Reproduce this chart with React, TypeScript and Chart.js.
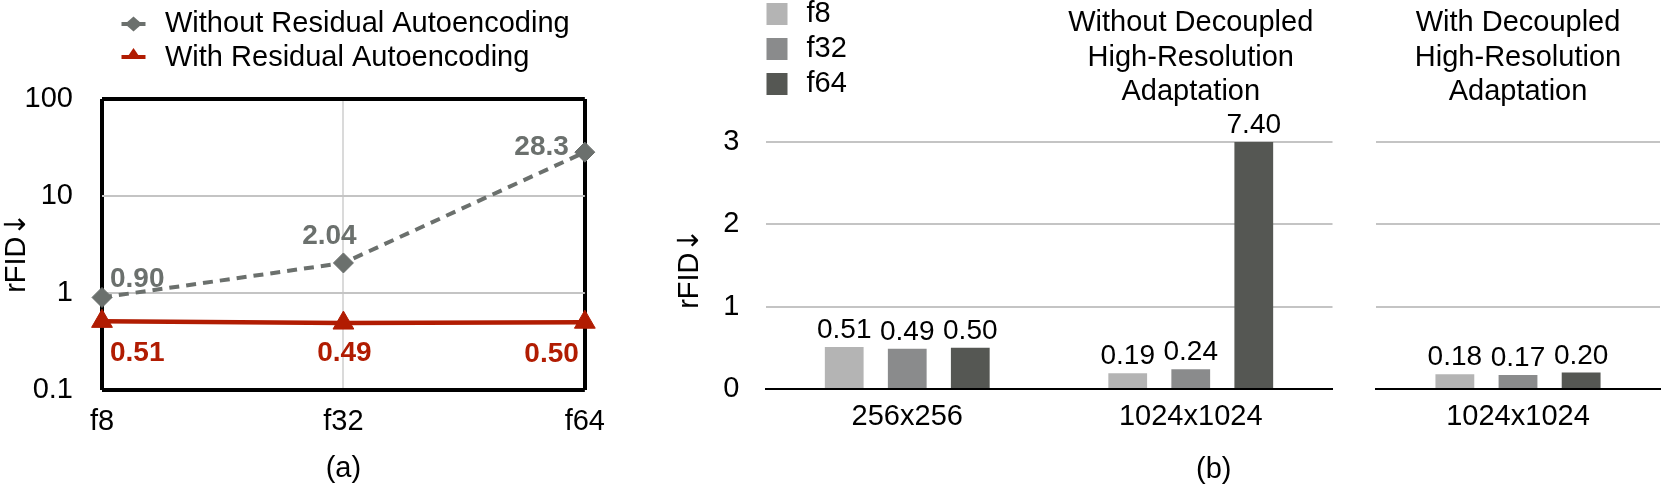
import React, { useEffect, useRef } from 'react';
import { Chart, registerables } from 'chart.js';

Chart.register(...registerables);

const FONT = "'Liberation Sans', Arial, Helvetica, sans-serif";
const ARROW_FONT = "'DejaVu Sans', sans-serif";

// ---------- Panel (a) data ----------
const FACTORS = ['f8', 'f32', 'f64'];
const WITHOUT_RESIDUAL = [0.9, 2.04, 28.3];
const WITH_RESIDUAL = [0.51, 0.49, 0.5];
const LOG_TICKS = [0.1, 1, 10, 100];

// ---------- Panel (b) data ----------
const SERIES_NAMES = ['f8', 'f32', 'f64'];
const RES_WITHOUT_DHR = ['256x256', '1024x1024'];
const RES_WITH_DHR = ['1024x1024'];
const F8_WITHOUT_DHR = [0.51, 0.19];
const F32_WITHOUT_DHR = [0.49, 0.24];
const F64_WITHOUT_DHR = [0.5, 7.4];
const F8_WITH_DHR = [0.18];
const F32_WITH_DHR = [0.17];
const F64_WITH_DHR = [0.2];
const BAR_Y_MAX = 3;
const TITLE_WITHOUT_DHR = ['Without Decoupled', 'High-Resolution', 'Adaptation'];
const TITLE_WITH_DHR = ['With Decoupled', 'High-Resolution', 'Adaptation'];
const Y_TITLE = 'rFID';
const Y_TITLE_ARROW = '↓';

// ---------- styles ----------
const GRAY = '#6b706d';
const RED = '#b11c02';
const BAR_COLORS = ['#b4b4b4', '#8a8b8c', '#555753'];
const GRID = '#c4c4c4';
const FS = 29;

const GRAY_PLACE = [
  { dx: 8, dy: -18, align: 'left' },
  { dx: -14, dy: -27, align: 'center' },
  { dx: -16, dy: -5, align: 'right' },
];
const RED_PLACE = [
  { dx: 8, dy: 32, align: 'left' },
  { dx: 1, dy: 30, align: 'center' },
  { dx: -6, dy: 32, align: 'right' },
];

const fmt = (v: number) => (v >= 10 ? v.toFixed(1) : v.toFixed(2));
const fMain = { family: FONT, size: FS };

// ---------- plugins ----------
const pointLabelPlugin = {
  id: 'pointLabels',
  beforeDatasetsDraw(chart: any) {
    const ctx = chart.ctx;
    ctx.save();
    ctx.font = `bold 28px ${FONT}`;
    ctx.textBaseline = 'middle';
    chart.data.datasets.forEach((ds: any, di: number) => {
      const meta = chart.getDatasetMeta(di);
      const place = ds.place;
      meta.data.forEach((pt: any, i: number) => {
        const p = place[i];
        ctx.fillStyle = ds.borderColor;
        ctx.textAlign = p.align;
        ctx.fillText(fmt(ds.data[i]), pt.x + p.dx, pt.y + p.dy);
      });
    });
    ctx.restore();
  },
};

const legendAPlugin = {
  id: 'legendA',
  afterDraw(chart: any) {
    const ctx = chart.ctx;
    const rows = [24, 58];
    const mx = 133.5;
    chart.data.datasets.forEach((ds: any, i: number) => {
      const y = rows[i];
      const ly = y - (i === 1 ? 1 : 0);
      ctx.save();
      ctx.strokeStyle = ds.borderColor;
      ctx.fillStyle = ds.borderColor;
      ctx.lineWidth = 4;
      ctx.beginPath();
      ctx.moveTo(mx - 12, ly);
      ctx.lineTo(mx + 12, ly);
      ctx.stroke();
      ctx.beginPath();
      if (ds.pointStyle === 'rectRot') {
        ctx.moveTo(mx - 8.5, y);
        ctx.lineTo(mx, y - 7.5);
        ctx.lineTo(mx + 8.5, y);
        ctx.lineTo(mx, y + 7.5);
      } else {
        ctx.moveTo(mx, y - 10);
        ctx.lineTo(mx + 7.5, y + 1);
        ctx.lineTo(mx - 7.5, y + 1);
      }
      ctx.closePath();
      ctx.fill();
      ctx.font = `${FS}px ${FONT}`;
      ctx.fillStyle = '#000';
      ctx.textAlign = 'left';
      ctx.textBaseline = 'middle';
      ctx.fillText(ds.label, 165, y);
      ctx.restore();
    });
  },
};

const makeYTitlePlugin = (dy: number) => ({
  id: 'yTitle',
  afterDraw(chart: any) {
    const ctx = chart.ctx;
    const ys = chart.scales.y;
    const cx = ys.left + (FS * 1.2) / 2;
    const cy = (chart.chartArea.top + chart.chartArea.bottom) / 2 + dy;
    ctx.save();
    ctx.translate(cx, cy);
    ctx.rotate(-Math.PI / 2);
    ctx.fillStyle = '#000';
    ctx.textBaseline = 'middle';
    ctx.textAlign = 'left';
    ctx.font = `${FS}px ${FONT}`;
    const w1 = ctx.measureText(Y_TITLE).width;
    ctx.font = `${FS}px ${ARROW_FONT}`;
    const w2 = ctx.measureText(Y_TITLE_ARROW).width;
    const start = -(w1 + w2) / 2;
    ctx.font = `${FS}px ${FONT}`;
    ctx.fillText(Y_TITLE, start, 0);
    ctx.font = `${FS}px ${ARROW_FONT}`;
    ctx.fillText(Y_TITLE_ARROW, start + w1, 0);
    ctx.restore();
  },
});

const barValuePlugin = {
  id: 'barValues',
  afterDatasetsDraw(chart: any) {
    const ctx = chart.ctx;
    const top = chart.chartArea.top;
    ctx.save();
    ctx.font = `28px ${FONT}`;
    ctx.fillStyle = '#000';
    ctx.textAlign = 'center';
    ctx.textBaseline = 'alphabetic';
    chart.data.datasets.forEach((ds: any, di: number) => {
      chart.getDatasetMeta(di).data.forEach((bar: any, i: number) => {
        const y = Math.max(bar.y, top);
        ctx.fillText(fmt(ds.data[i]), bar.x, y - 9);
      });
    });
    ctx.restore();
  },
};

const makeHeaderPlugin = (lines: string[], catIndex: number) => ({
  id: 'header',
  afterDraw(chart: any) {
    const ctx = chart.ctx;
    const x = chart.scales.x.getPixelForValue(catIndex);
    const ys = [23, 57.5, 92];
    ctx.save();
    ctx.font = `${FS}px ${FONT}`;
    ctx.fillStyle = '#000';
    ctx.textAlign = 'center';
    ctx.textBaseline = 'middle';
    lines.forEach((t, i) => ctx.fillText(t, x, ys[i]));
    ctx.restore();
  },
});

const legendBPlugin = {
  id: 'legendB',
  afterDraw(chart: any) {
    const ctx = chart.ctx;
    const left = chart.chartArea.left + 1;
    const rows = [14, 49, 84];
    ctx.save();
    chart.data.datasets.forEach((ds: any, i: number) => {
      const y = rows[i];
      ctx.fillStyle = ds.backgroundColor;
      ctx.fillRect(left, y - 11, 21, 22);
      ctx.font = `${FS}px ${FONT}`;
      ctx.fillStyle = '#000';
      ctx.textAlign = 'left';
      ctx.textBaseline = 'middle';
      ctx.fillText(ds.label, left + 40, y);
    });
    ctx.restore();
  },
};

const panelLabelBPlugin = {
  id: 'panelLabelB',
  afterDraw(chart: any) {
    const ctx = chart.ctx;
    ctx.save();
    ctx.font = `${FS}px ${FONT}`;
    ctx.fillStyle = '#000';
    ctx.textAlign = 'center';
    ctx.textBaseline = 'middle';
    ctx.fillText('(b)', (chart.chartArea.left + chart.width) / 2, 470);
    ctx.restore();
  },
};

// ---------- configs ----------
function configA(): any {
  const isEdgeY = (c: any) =>
    c.tick && (c.tick.value === LOG_TICKS[0] || c.tick.value === LOG_TICKS[LOG_TICKS.length - 1]);
  const isEdgeX = (c: any) => c.index === 0 || c.index === FACTORS.length - 1;
  return {
    type: 'line',
    data: {
      labels: FACTORS,
      datasets: [
        {
          label: 'Without Residual Autoencoding',
          data: WITHOUT_RESIDUAL,
          borderColor: GRAY,
          backgroundColor: GRAY,
          borderWidth: 4,
          borderDash: [10, 7],
          pointStyle: 'rectRot',
          pointRadius: 10,
          pointBorderWidth: 1,
          pointBackgroundColor: GRAY,
          pointBorderColor: GRAY,
          clip: false,
          place: GRAY_PLACE,
        },
        {
          label: 'With Residual Autoencoding',
          data: WITH_RESIDUAL,
          borderColor: RED,
          backgroundColor: RED,
          borderWidth: 4.5,
          pointStyle: 'triangle',
          pointRadius: 12,
          pointBorderWidth: 1,
          pointBackgroundColor: RED,
          pointBorderColor: RED,
          clip: false,
          place: RED_PLACE,
        },
      ],
    },
    options: {
      responsive: false,
      animation: false,
      layout: { padding: { top: 99, right: 29, bottom: 0, left: 0 } },
      plugins: { legend: { display: false }, tooltip: { enabled: false } },
      scales: {
        x: {
          type: 'category',
          offset: false,
          grid: {
            drawTicks: false,
            color: (c: any) => (isEdgeX(c) ? '#000' : '#dadada'),
            lineWidth: (c: any) => (isEdgeX(c) ? 4 : 2),
          },
          border: { display: false },
          ticks: { font: fMain, color: '#000', padding: 15 },
          title: { display: true, text: '(a)', font: fMain, color: '#000', padding: { top: 0, bottom: 0 } },
          afterFit: (s: any) => {
            s.height = 96;
          },
        },
        y: {
          type: 'logarithmic',
          min: LOG_TICKS[0],
          max: LOG_TICKS[LOG_TICKS.length - 1],
          afterBuildTicks: (s: any) => {
            s.ticks = LOG_TICKS.map((v) => ({ value: v }));
          },
          grid: {
            drawTicks: false,
            color: (c: any) => (isEdgeY(c) ? '#000' : GRID),
            lineWidth: (c: any) => (isEdgeY(c) ? 4 : 2),
          },
          border: { display: false },
          ticks: { font: fMain, color: '#000', padding: 29, callback: (v: any) => String(v) },
          title: { display: false },
          afterFit: (s: any) => {
            s.width = 102;
          },
        },
      },
    },
    plugins: [pointLabelPlugin, legendAPlugin, makeYTitlePlugin(8)],
  };
}

function barDatasets(f8: number[], f32: number[], f64: number[]) {
  return [f8, f32, f64].map((d, i) => ({
    label: SERIES_NAMES[i],
    data: d,
    backgroundColor: BAR_COLORS[i],
    borderWidth: 0,
    categoryPercentage: 0.667,
    barPercentage: 0.615,
  }));
}

function barOptions(showYLabels: boolean, yWidth: number, rightPad: number): any {
  return {
    responsive: false,
    animation: false,
    layout: { padding: { top: 142, right: rightPad, bottom: 0, left: 0 } },
    plugins: { legend: { display: false }, tooltip: { enabled: false } },
    scales: {
      x: {
        grid: { display: false, drawTicks: false },
        border: { display: true, color: '#000', width: 2 },
        ticks: { font: fMain, color: '#000', padding: 11 },
        afterFit: (s: any) => {
          s.height = 97;
        },
      },
      y: {
        min: 0,
        max: BAR_Y_MAX,
        grid: { color: GRID, lineWidth: 2, drawTicks: false },
        border: { display: false },
        ticks: { display: showYLabels, stepSize: 1, font: fMain, color: '#000', padding: 26 },
        title: { display: false },
        afterFit: (s: any) => {
          s.width = yWidth;
        },
      },
    },
  };
}

function configB(): any {
  return {
    type: 'bar',
    data: { labels: RES_WITHOUT_DHR, datasets: barDatasets(F8_WITHOUT_DHR, F32_WITHOUT_DHR, F64_WITHOUT_DHR) },
    options: barOptions(true, 92.5, 329.5),
    plugins: [barValuePlugin, makeHeaderPlugin(TITLE_WITHOUT_DHR, 1), legendBPlugin, panelLabelBPlugin, makeYTitlePlugin(3)],
  };
}

function configC(): any {
  return {
    type: 'bar',
    data: { labels: RES_WITH_DHR, datasets: barDatasets(F8_WITH_DHR, F32_WITH_DHR, F64_WITH_DHR) },
    options: barOptions(false, 36, 2),
    plugins: [barValuePlugin, makeHeaderPlugin(TITLE_WITH_DHR, 0)],
  };
}

export default function App() {
  const refA = useRef<HTMLCanvasElement>(null);
  const refB = useRef<HTMLCanvasElement>(null);
  const refC = useRef<HTMLCanvasElement>(null);

  useEffect(() => {
    document.body.style.margin = '0';
    Chart.defaults.font.family = FONT;
    Chart.defaults.color = '#000';
    const a = new Chart(refA.current as HTMLCanvasElement, configA());
    const b = new Chart(refB.current as HTMLCanvasElement, configB());
    const c = new Chart(refC.current as HTMLCanvasElement, configC());
    return () => {
      a.destroy();
      b.destroy();
      c.destroy();
    };
  }, []);

  return (
    <div style={{ position: 'relative', width: 1662, height: 486, background: '#fff', overflow: 'hidden' }}>
      <canvas ref={refA} width={620} height={486} style={{ position: 'absolute', left: 0, top: 0 }} />
      <canvas ref={refB} width={989} height={486} style={{ position: 'absolute', left: 673, top: 0 }} />
      <canvas ref={refC} width={322} height={486} style={{ position: 'absolute', left: 1340, top: 0 }} />
    </div>
  );
}
